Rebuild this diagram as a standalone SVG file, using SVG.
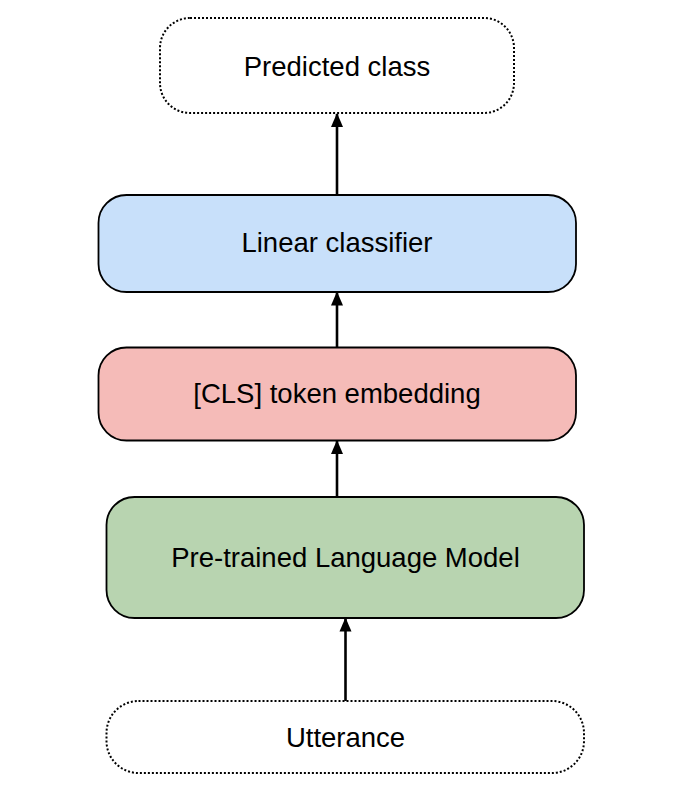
<svg xmlns="http://www.w3.org/2000/svg" width="684" height="810" viewBox="0 0 684 810">
<style>
.box{stroke:#000;stroke-width:1.8}
.dot{fill:#fff;stroke:#000;stroke-width:2;stroke-dasharray:2 2}
.lbl{font-family:"Liberation Sans",Arial,sans-serif;font-size:27.5px;fill:#000;text-anchor:middle}
.conn{stroke:#000;stroke-width:2.6;fill:none}
</style>
<defs>
<marker id="ah" markerWidth="14" markerHeight="14" viewBox="0 0 14 14" refX="13" refY="7" orient="auto" markerUnits="userSpaceOnUse">
<path d="M0,1 L14,7 L0,13 z" fill="#000"/>
</marker>
</defs>
<rect width="684" height="810" fill="#fff"/>
<g id="predicted">
<rect class="dot" x="160" y="18" width="354" height="95" rx="30"/>
<text class="lbl" x="337" y="75.5">Predicted class</text>
</g>
<g id="linear">
<rect class="box" x="98.5" y="195" width="477.5" height="97" rx="28" fill="#c8e0fa"/>
<text class="lbl" x="337" y="251.5">Linear classifier</text>
</g>
<g id="cls">
<rect class="box" x="98.5" y="347.5" width="477.5" height="93" rx="28" fill="#f5bbb8"/>
<text class="lbl" x="337" y="402.5">[CLS] token embedding</text>
</g>
<g id="plm">
<rect class="box" x="106.5" y="497" width="477.5" height="121" rx="28" fill="#b8d4b0"/>
<text class="lbl" x="345.5" y="566.5">Pre-trained Language Model</text>
</g>
<g id="utterance">
<rect class="dot" x="106.5" y="701" width="477.5" height="72" rx="32"/>
<text class="lbl" x="345.5" y="746.5">Utterance</text>
</g>
<g id="connectors">
<line class="conn" x1="337" y1="195" x2="337" y2="114" marker-end="url(#ah)"/>
<line class="conn" x1="337" y1="347" x2="337" y2="292.5" marker-end="url(#ah)"/>
<line class="conn" x1="337" y1="497" x2="337" y2="441" marker-end="url(#ah)"/>
<line class="conn" x1="345.5" y1="701" x2="345.5" y2="618.5" marker-end="url(#ah)"/>
</g>
</svg>
